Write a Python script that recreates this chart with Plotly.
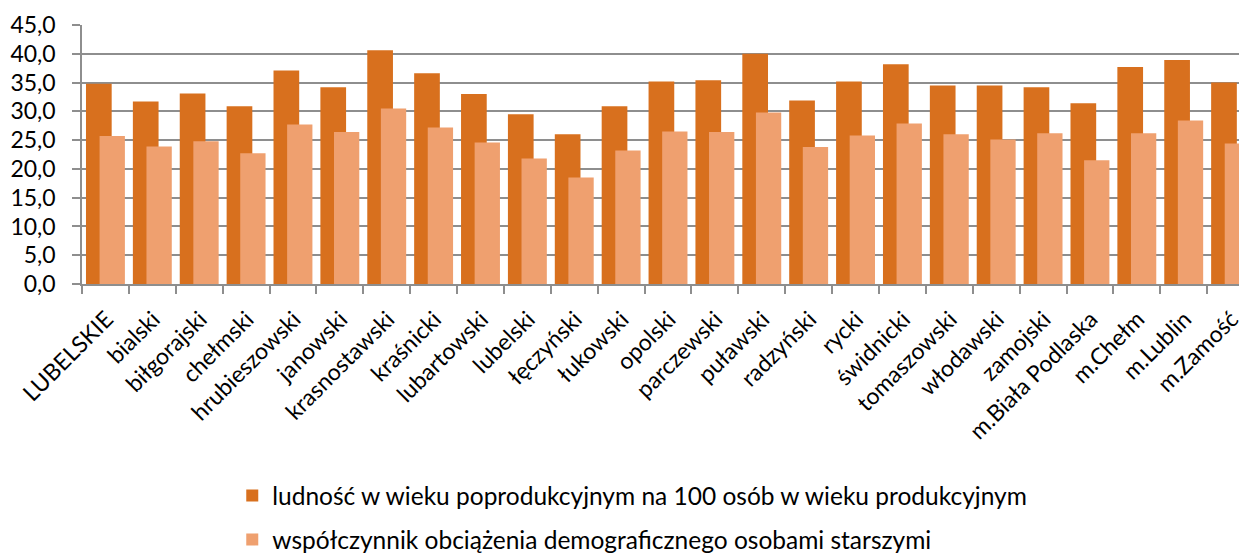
import plotly.graph_objects as go

categories = ["LUBELSKIE", "bialski", "biłgorajski", "chełmski", "hrubieszowski", "janowski",
              "krasnostawski", "kraśnicki", "lubartowski", "lubelski", "łęczyński", "łukowski",
              "opolski", "parczewski", "puławski", "radzyński", "rycki", "świdnicki",
              "tomaszowski", "włodawski", "zamojski", "m.Biała Podlaska", "m.Chełm",
              "m.Lublin", "m.Zamość"]

ludnosc = [34.8, 31.7, 33.1, 30.9, 37.1, 34.2, 40.6, 36.6, 33.0, 29.5, 26.0, 30.9,
           35.2, 35.4, 40.0, 31.9, 35.2, 38.2, 34.5, 34.5, 34.2, 31.4, 37.7, 38.9, 35.0]

wspolczynnik = [25.7, 23.9, 24.8, 22.7, 27.7, 26.4, 30.5, 27.2, 24.6, 21.8, 18.5, 23.2,
                26.5, 26.4, 29.8, 23.8, 25.8, 27.9, 26.0, 25.1, 26.2, 21.5, 26.2, 28.4, 24.4]

name1 = "ludność w wieku poprodukcyjnym na 100 osób w wieku produkcyjnym"
name2 = "współczynnik obciążenia demograficznego osobami starszymi"

FONT = "Lato, Carlito, 'Open Sans', sans-serif"
FS = 23

fig = go.Figure()
fig.add_trace(go.Bar(
    x=categories, y=ludnosc, name=name1, legendgroup="a",
    offset=-0.415, width=0.548,
    marker=dict(color="#D8701E", line=dict(width=0)),
))
fig.add_trace(go.Bar(
    x=categories, y=wspolczynnik, name=name2, legendgroup="b",
    offset=-0.125, width=0.54,
    marker=dict(color="#EFA06F", line=dict(width=0)),
))

grid = "#8E8E8E"
fig.update_layout(
    width=1239, height=546,
    margin=dict(l=74, r=0, t=17, b=270, autoexpand=False),
    barmode="overlay",
    separators=", ",
    plot_bgcolor="white", paper_bgcolor="white",
    font=dict(family=FONT, size=FS, color="#000000"),
    showlegend=True,
    legend=dict(
        xref="container", yref="container",
        x=0.181, y=0.148, xanchor="left", yanchor="top",
        orientation="v", tracegroupgap=9,
        font=dict(family=FONT, size=24.5, color="#000000"),
        bgcolor="rgba(0,0,0,0)",
    ),
    xaxis=dict(
        type="category", range=[-0.5, 24.35], automargin=False,
        tickangle=-45, ticks="outside", tickson="boundaries", ticklen=8,
        tickcolor=grid, tickwidth=1.5,
        showline=True, linecolor=grid, linewidth=1.5,
        showgrid=False,
        ticklabelshift=1, ticklabelstandoff=11,
        tickfont=dict(family=FONT, size=FS, color="#000000"),
    ),
    yaxis=dict(
        range=[0, 45], dtick=5, tickformat=".1f", automargin=False,
        ticks="outside", ticklen=8, tickcolor=grid, tickwidth=1.5,
        showline=True, linecolor=grid, linewidth=1.5,
        showgrid=True, gridcolor=grid, gridwidth=1.5,
        zeroline=False,
        ticklabelstandoff=12,
        tickfont=dict(family=FONT, size=FS, color="#000000"),
    ),
)

fig.write_html("out.html")
